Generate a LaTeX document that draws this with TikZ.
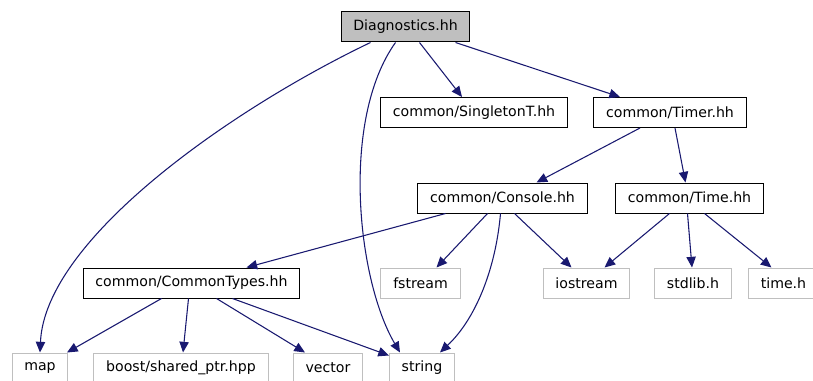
\documentclass[tikz,border=0pt]{standalone}
\usepackage{fontspec}
\setmainfont{DejaVu Sans}
\usepackage{tikz}
\usetikzlibrary{arrows.meta}
\definecolor{edgeblue}{HTML}{191970}

\begin{document}
\begin{tikzpicture}[x=0.75pt, y=-0.75pt, font=\fontsize{10.6}{12}\selectfont,
  file/.style={draw, line width=0.75pt, inner xsep=9.2pt, inner ysep=0pt, minimum height=22.5pt},
  own/.style={file, draw=black},
  sys/.style={file, draw=gray!50},
  top/.style={own, fill=gray!50},
  dep/.style={draw=edgeblue, line width=0.8pt, -{Triangle[length=8pt, width=7pt]}}]
\useasboundingbox (0,0) rectangle (813,381);
% files
\node[top] (diag) at (405.5,27) {Diagnostics.hh};
\node[own] (singleton) at (474,112.5) {common/SingletonT.hh};
\node[own] (timer) at (670,112.5) {common/Timer.hh};
\node[own] (console) at (502.5,198) {common/Console.hh};
\node[own] (time) at (689.5,198) {common/Time.hh};
\node[own] (ctypes) at (191.5,283) {common/CommonTypes.hh};
\node[sys] (fstream) at (420.5,283) {fstream};
\node[sys] (iostream) at (586.5,283) {iostream};
\node[sys] (stdlib) at (693,283) {stdlib.h};
\node[sys] (timeh) at (783.5,283) {time.h};
\node[sys] (map) at (40,368) {map};
\node[sys] (boost) at (181,368) {boost/shared\_ptr.hpp};
\node[sys] (vector) at (328,368) {vector};
\node[sys] (string) at (422,368) {string};
% includes
\draw[dep] ([shift={(-35,0)}]diag.south) .. controls +(-140,67) and +(5,-113) .. (map.north);
\draw[dep] ([shift={(-10,0)}]diag.south) .. controls +(-55,77) and +(-43,-73) .. ([shift={(-22,0)}]string.north);
\draw[dep] ([shift={(14,0)}]diag.south) -- ([shift={(-12,0)}]singleton.north);
\draw[dep] ([shift={(50,0)}]diag.south) -- ([shift={(-50,0)}]timer.north);
\draw[dep] ([shift={(-30,0)}]timer.south) -- ([shift={(34,0)}]console.north);
\draw[dep] ([shift={(5,0)}]timer.south) -- ([shift={(-4,0)}]time.north);
\draw[dep] ([shift={(-57,0)}]console.south) -- ([shift={(55,0)}]ctypes.north);
\draw[dep] ([shift={(-15,0)}]console.south) -- ([shift={(16,0)}]fstream.north);
\draw[dep] ([shift={(12,0)}]console.south) -- ([shift={(-15,0)}]iostream.north);
\draw[dep] ([shift={(-2,0)}]console.south) .. controls +(-5,57) and +(35,-33) .. ([shift={(18,0)}]string.north);
\draw[dep] ([shift={(-20,0)}]time.south) -- ([shift={(18,0)}]iostream.north);
\draw[dep] ([shift={(-2,0)}]time.south) -- ([shift={(-1,0)}]stdlib.north);
\draw[dep] ([shift={(15,0)}]time.south) -- ([shift={(-12,0)}]timeh.north);
\draw[dep] ([shift={(-30,0)}]ctypes.south) -- ([shift={(27,0)}]map.north);
\draw[dep] ([shift={(-3,0)}]ctypes.south) -- ([shift={(2,0)}]boost.north);
\draw[dep] ([shift={(25,0)}]ctypes.south) -- ([shift={(-23,0)}]vector.north);
\draw[dep] ([shift={(41,0)}]ctypes.south) -- ([shift={(0,3)}]string.north west);
\end{tikzpicture}
\end{document}
